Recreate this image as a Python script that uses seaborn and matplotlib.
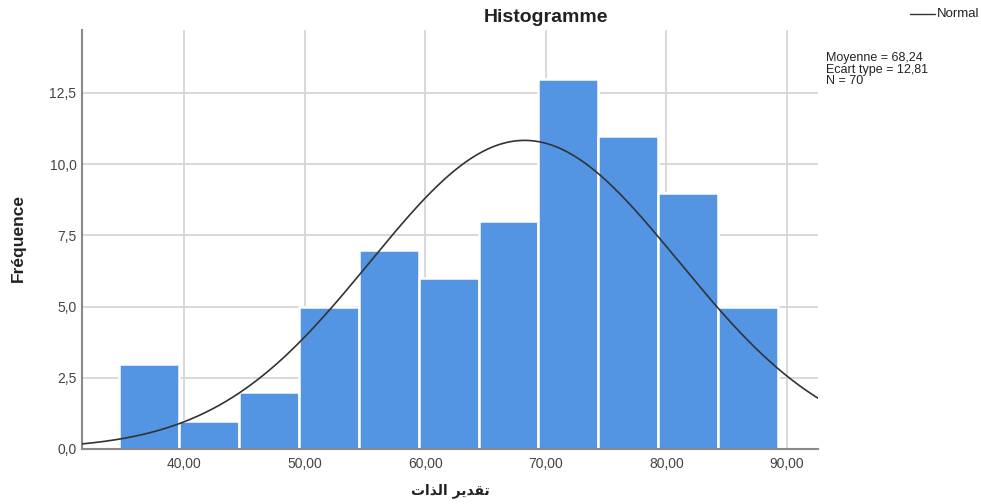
import numpy as np
import pandas as pd
import matplotlib
matplotlib.use("Agg")
import matplotlib.pyplot as plt
from matplotlib.lines import Line2D
import seaborn as sns

# ---- data ----
bin_start = 34.6
bin_width = 4.97
counts = [3, 1, 2, 5, 7, 6, 8, 13, 11, 9, 5]
mean_val = 68.24
sd_val = 12.81
n_val = 70
x_ticks = [40, 50, 60, 70, 80, 90]
x_ticklabels = ["40,00", "50,00", "60,00", "70,00", "80,00", "90,00"]
y_ticks = [0, 2.5, 5, 7.5, 10, 12.5]
y_ticklabels = ["0,0", "2,5", "5,0", "7,5", "10,0", "12,5"]
title = "Histogramme"
ylabel = "Fréquence"
# "تقدير الذات" in shaped presentation forms, visual order
xlabel = "\uFE95\uFE8D\uFEAC\uFEDF\uFE8D \uFEAE\uFEF3\uFEAA\uFED8\uFE97"
stats_lines = ["Moyenne = 68,24", "Ecart type = 12,81", "N = 70"]

edges = bin_start + bin_width * np.arange(len(counts) + 1)
centers = (edges[:-1] + edges[1:]) / 2
df = pd.DataFrame({"x": centers, "w": counts})

sns.set_style("white")
plt.rcParams["font.family"] = ["Liberation Sans", "DejaVu Sans"]

fig = plt.figure(figsize=(9.81, 5.04), dpi=100)
ax = fig.add_axes([82 / 981, 1 - 449 / 504, (818 - 82) / 981, (449 - 30) / 504])

for t in x_ticks:
    ax.axvline(t, color="#d6d6d6", lw=1.3, zorder=0)
for t in y_ticks[1:]:
    ax.axhline(t, color="#d6d6d6", lw=1.3, zorder=0)

sns.histplot(data=df, x="x", weights="w", binwidth=bin_width,
             binrange=(float(edges[0]), float(edges[-1])), ax=ax,
             color="#5394E3", alpha=1, edgecolor="white", linewidth=1.8, zorder=2)

xs = np.linspace(31.54, 92.57, 400)
ys = n_val * bin_width * np.exp(-0.5 * ((xs - mean_val) / sd_val) ** 2) / (sd_val * np.sqrt(2 * np.pi))
ax.plot(xs, ys, color="#333333", lw=1.2, zorder=3)

ax.set_xlim(31.54, 92.57)
ax.set_ylim(0, 14.71)

ax.set_xticks(x_ticks)
ax.set_xticklabels(x_ticklabels)
ax.set_yticks(y_ticks)
ax.set_yticklabels(y_ticklabels)
ax.tick_params(axis="both", length=0, labelsize=10, labelcolor="#444444")
ax.tick_params(axis="x", pad=6)
ax.tick_params(axis="y", pad=4)

for s in ["top", "right"]:
    ax.spines[s].set_visible(False)
for s in ["left", "bottom"]:
    ax.spines[s].set_color("#8a8a8a")
    ax.spines[s].set_linewidth(1.5)

ax.set_xlabel("")
ax.set_ylabel("")

fig.text(546 / 981, 1 - 17 / 504, title, ha="center", va="center",
         fontsize=14, fontweight="bold", color="#222222")
fig.text(18 / 981, 1 - 238 / 504, ylabel, ha="center", va="center", rotation=90,
         fontsize=12.5, fontweight="bold", color="#222222")
fig.text(450 / 981, 1 - 491 / 504, xlabel, ha="center", va="center",
         fontsize=10, fontweight="bold", color="#222222", family=["DejaVu Sans"])

fig.add_artist(Line2D([910 / 981, 935 / 981], [1 - 14 / 504, 1 - 14 / 504],
                      color="#333333", lw=1.0, transform=fig.transFigure))
fig.text(937 / 981, 1 - 14 / 504, "Normal", ha="left", va="center",
         fontsize=9.5, color="#222222")

for i, line in enumerate(stats_lines):
    fig.text(826 / 981, 1 - (58 + 11.5 * i) / 504, line, ha="left", va="center",
             fontsize=9, color="#222222")

fig.savefig("out.png", dpi=100)
